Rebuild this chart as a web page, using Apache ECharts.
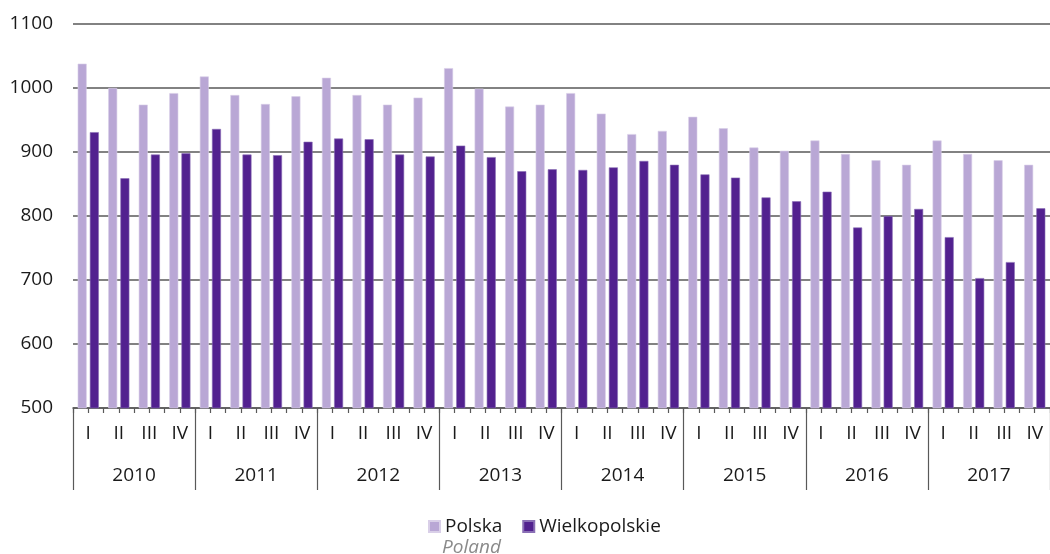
<!DOCTYPE html>
<html>
<head>
<meta charset="utf-8">
<script src="https://cdn.jsdelivr.net/npm/echarts@6/dist/echarts.min.js"></script>
<style>
  html, body { margin: 0; padding: 0; background: #fff; }
  #chart { width: 1050px; height: 554px; }
</style>
</head>
<body>
<div id="chart"></div>
<script>
// kwartały i lata
const quarters = ['I', 'II', 'III', 'IV']
const years = ['2010', '2011', '2012', '2013', '2014', '2015', '2016', '2017']
const yTicks = { min: 500, max: 1100, step: 100 }

// wartości
const polska = [
  1038, 1000, 974, 992,
  1018, 989, 975, 987,
  1016, 989, 974, 985,
  1031, 999, 971, 974,
  992, 960, 928, 933,
  955, 937, 907, 902,
  918, 897, 887, 880,
  918, 897, 887, 880
]
const wielkopolskie = [
  931, 859, 896, 898,
  936, 896, 895, 916,
  921, 920, 896, 893,
  910, 892, 870, 873,
  872, 876, 886, 880,
  865, 860, 829, 823,
  838, 782, 800, 811,
  767, 703, 728, 812
]

const categories = []
years.forEach(y => quarters.forEach(q => categories.push(y + ' ' + q)))

const font = 'Open Sans'
const fontSize = 19
const axisColor = '#595959'
const chartInstane = echarts.init(document.getElementById('chart'))

const option = {
  animation: false,
  textStyle: { fontFamily: font },
  grid: {
    left: 73,
    top: 24,
    height: 384,
    width: 987
  },
  legend: {
    left: 423,
    top: 512,
    icon: 'rect',
    itemWidth: 11,
    itemHeight: 11,
    itemGap: 20,
    textStyle: { fontSize: fontSize, color: '#1a1a1a', fontFamily: font },
    data: ['Polska', 'Wielkopolskie']
  },
  graphic: [{
    type: 'text',
    left: 442,
    top: 538,
    style: {
      text: 'Poland',
      fill: '#8a8a8a',
      fontSize: fontSize,
      fontStyle: 'italic',
      fontFamily: font
    }
  }],
  xAxis: [
    {
      // kwartały, kreski na granicach
      type: 'category',
      data: categories,
      axisLine: { show: true, lineStyle: { color: axisColor, width: 1.5 } },
      axisTick: { show: true, interval: 0, length: 5, lineStyle: { color: axisColor, width: 1.2 } },
      axisLabel: {
        interval: 0,
        margin: 16,
        fontSize: fontSize,
        fontFamily: font,
        color: '#1a1a1a',
        formatter: v => v.split(' ')[1]
      }
    },
    {
      // kreski na środkach kategorii
      type: 'category',
      data: categories,
      position: 'bottom',
      axisLine: { show: false },
      axisTick: { show: true, interval: 0, length: 5, alignWithLabel: true, lineStyle: { color: axisColor, width: 1.2 } },
      axisLabel: { show: false }
    },
    {
      // lata
      type: 'category',
      data: years,
      position: 'bottom',
      axisLine: { show: false },
      axisTick: { show: true, interval: 0, length: 82, lineStyle: { color: axisColor, width: 1.2 } },
      axisLabel: { interval: 0, margin: 58, fontSize: fontSize, fontFamily: font, color: '#1a1a1a' }
    }
  ],
  yAxis: {
    type: 'value',
    min: yTicks.min,
    max: yTicks.max,
    interval: yTicks.step,
    axisLine: { show: false },
    axisTick: { show: false },
    axisLabel: {
      margin: 20,
      fontSize: fontSize,
      fontFamily: font,
      color: '#1a1a1a',
      formatter: v => String(v)
    },
    splitLine: { lineStyle: { color: axisColor, width: 1.5 } }
  },
  series: [
    {
      name: 'Polska',
      type: 'bar',
      data: polska,
      barWidth: 9,
      barGap: '35%',
      itemStyle: { color: '#b9a7d5', borderColor: '#d9cfe8', borderWidth: 0.6 }
    },
    {
      name: 'Wielkopolskie',
      type: 'bar',
      data: wielkopolskie,
      barWidth: 9,
      itemStyle: { color: '#52218f', borderColor: '#8a6fb5', borderWidth: 0.6 }
    }
  ]
}

chartInstane.setOption(option)
</script>
</body>
</html>
